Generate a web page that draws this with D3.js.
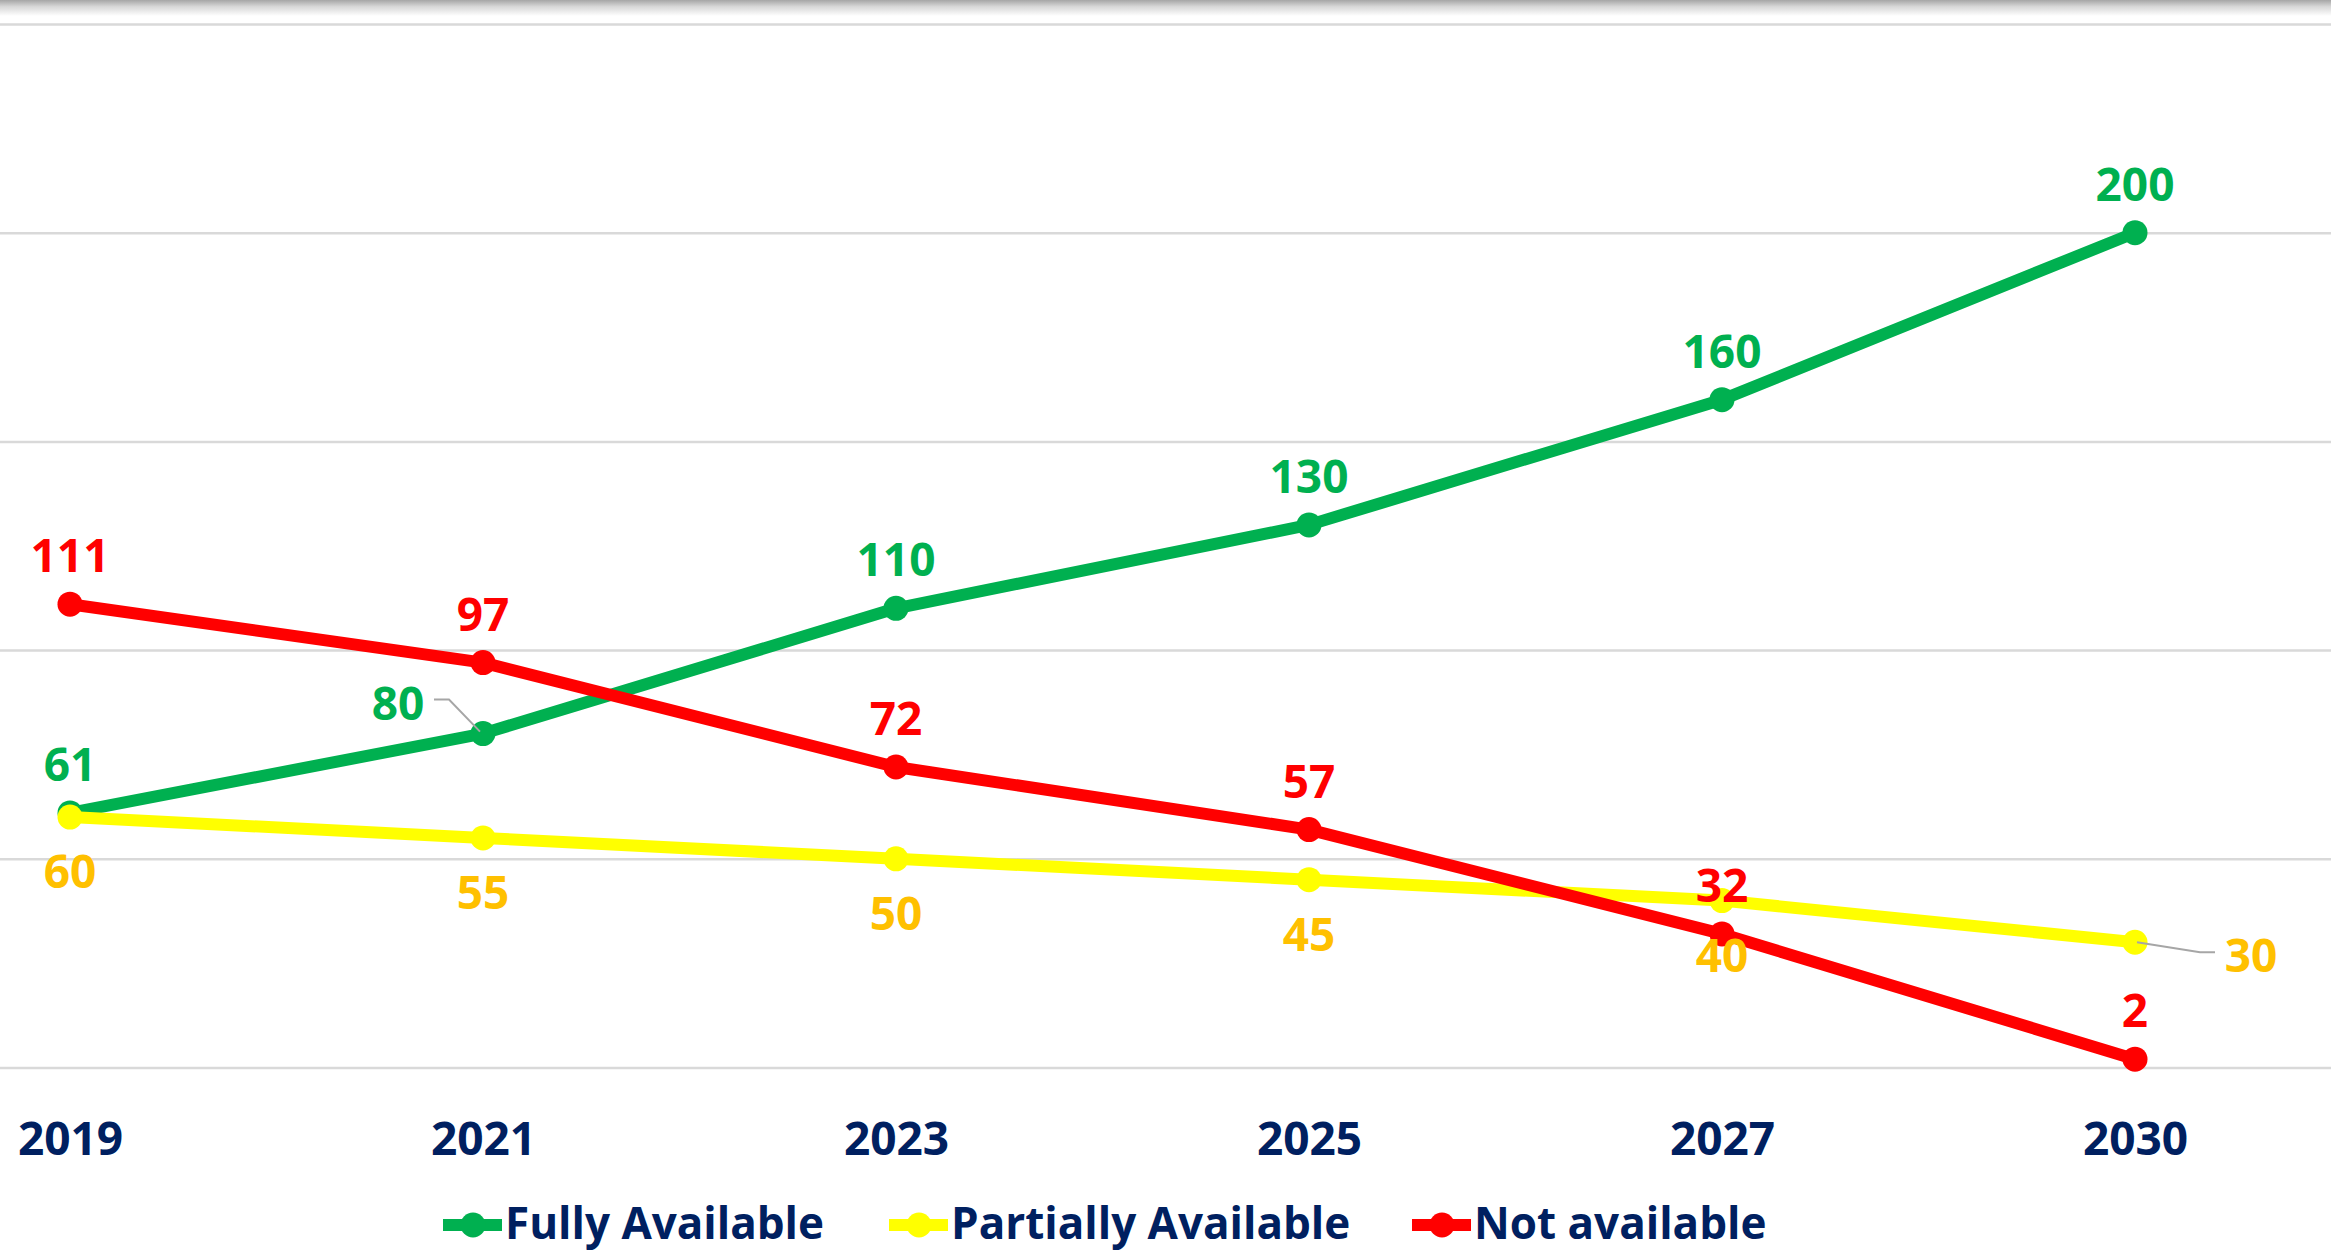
<!DOCTYPE html>
<html lang="en">
  <head>
    <meta charset="UTF-8" />
    <title>Availability 2019-2030</title>
    <script src="https://cdn.jsdelivr.net/npm/d3@7"></script>
    <style>
      body {
        margin: 0;
        background: #ffffff;
      }
      svg {
        display: block;
        font-family: "Open Sans", "Noto Sans", sans-serif;
        font-weight: bold;
      }
    </style>
  </head>
  <body>
    <script>
      const years = ["2019", "2021", "2023", "2025", "2027", "2030"];
      const fully = [61, 80, 110, 130, 160, 200];
      const partially = [60, 55, 50, 45, 40, 30];
      const notAvail = [111, 97, 72, 57, 32, 2];
      const seriesNames = ["Fully Available", "Partially Available", "Not available"];
      const yTicks = [0, 50, 100, 150, 200, 250];

      const width = 2331;
      const height = 1253;
      const navy = "#002060";

      const series = [
        { name: seriesNames[0], values: fully, color: "#00B050", labelColor: "#00B050", pos: "above" },
        { name: seriesNames[1], values: partially, color: "#FFFF00", labelColor: "#FFC000", pos: "below" },
        { name: seriesNames[2], values: notAvail, color: "#FF0000", labelColor: "#FF0000", pos: "above" }
      ];

      const x = d3.scalePoint().domain(years).range([70, 2135]);
      const y = d3.scaleLinear().domain([0, 250]).range([1067.5, 24]);

      const svg = d3
        .select("body")
        .append("svg")
        .attr("width", width)
        .attr("height", height);

      // grey shade along the top edge
      const grad = svg
        .append("defs")
        .append("linearGradient")
        .attr("id", "topShade")
        .attr("x1", 0)
        .attr("y1", 0)
        .attr("x2", 0)
        .attr("y2", 1);
      grad.append("stop").attr("offset", "0%").attr("stop-color", "#a6a6a6");
      grad.append("stop").attr("offset", "40%").attr("stop-color", "#d6d6d6");
      grad.append("stop").attr("offset", "100%").attr("stop-color", "#ffffff");
      svg
        .append("rect")
        .attr("x", 0)
        .attr("y", 0)
        .attr("width", width)
        .attr("height", 16)
        .attr("fill", "url(#topShade)");

      // gridlines
      const grid = svg
        .append("g")
        .call(
          d3
            .axisLeft(y)
            .tickValues(yTicks)
            .tickSize(-width)
            .tickFormat("")
        );
      grid.select(".domain").remove();
      grid
        .selectAll(".tick line")
        .attr("stroke", "#d9d9d9")
        .attr("stroke-width", 2.5);

      // x axis labels
      const xAxis = svg
        .append("g")
        .attr("transform", "translate(0,1155)")
        .call(d3.axisBottom(x).tickSize(0).tickPadding(0));
      xAxis.select(".domain").remove();
      xAxis
        .selectAll("text")
        .attr("dy", 0)
        .attr("fill", navy)
        .attr("font-size", 46)
        .attr("font-family", "Open Sans, sans-serif")
        .attr("font-weight", "bold");

      const line = d3
        .line()
        .x((d, i) => x(years[i]))
        .y(d => y(d));

      series.forEach(s => {
        svg
          .append("path")
          .datum(s.values)
          .attr("fill", "none")
          .attr("stroke", s.color)
          .attr("stroke-width", 12)
          .attr("stroke-linejoin", "round")
          .attr("d", line);
        svg
          .append("g")
          .selectAll("circle")
          .data(s.values)
          .enter()
          .append("circle")
          .attr("cx", (d, i) => x(years[i]))
          .attr("cy", d => y(d))
          .attr("r", 12.5)
          .attr("fill", s.color);
      });

      // leader lines for the two shifted labels
      const leaders = svg.append("g").attr("fill", "none").attr("stroke", "#a6a6a6").attr("stroke-width", 2);
      leaders
        .append("path")
        .attr("d", d3.line()([
          [434, y(fully[1]) - 34],
          [449, y(fully[1]) - 34],
          [x(years[1]) - 3, y(fully[1]) - 2]
        ]));
      leaders
        .append("path")
        .attr("d", d3.line()([
          [x(years[5]) + 2, y(partially[5])],
          [2200, y(partially[5]) + 10],
          [2215, y(partially[5]) + 10]
        ]));

      // data labels
      series.forEach(s => {
        svg
          .append("g")
          .selectAll("text")
          .data(s.values)
          .enter()
          .append("text")
          .attr("x", (d, i) => {
            if (s === series[0] && i === 1) return 398;
            if (s === series[1] && i === 5) return 2251;
            return x(years[i]);
          })
          .attr("y", (d, i) => {
            if (s === series[0] && i === 1) return y(d) - 14;
            if (s === series[1] && i === 5) return y(d) + 30;
            return s.pos === "above" ? y(d) - 32 : y(d) + 71;
          })
          .attr("text-anchor", "middle")
          .attr("font-size", 46)
          .attr("fill", s.labelColor)
          .text(d => d);
      });

      // legend
      const legendX = [443, 889, 1412];
      const legend = svg
        .append("g")
        .selectAll("g")
        .data(series)
        .enter()
        .append("g")
        .attr("transform", (d, i) => "translate(" + legendX[i] + ",1225)");
      legend
        .append("line")
        .attr("x1", 0)
        .attr("x2", 59)
        .attr("y1", 0)
        .attr("y2", 0)
        .attr("stroke", d => d.color)
        .attr("stroke-width", 12);
      legend
        .append("circle")
        .attr("cx", 30)
        .attr("cy", 0)
        .attr("r", 12.5)
        .attr("fill", d => d.color);
      legend
        .append("text")
        .attr("x", 62)
        .attr("y", 14)
        .attr("font-size", 44)
        .attr("fill", navy)
        .text(d => d.name);
    </script>
  </body>
</html>
